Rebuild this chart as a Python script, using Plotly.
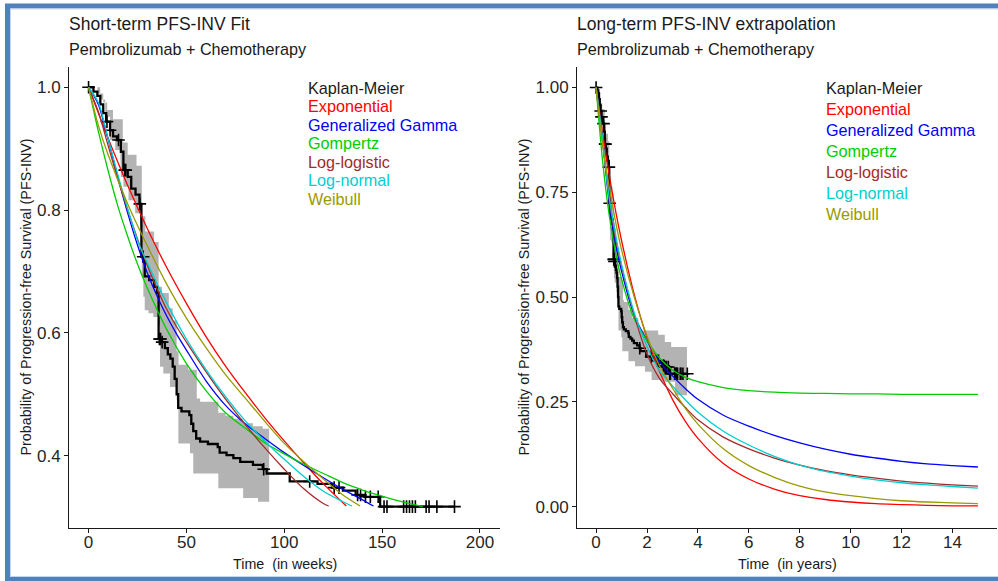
import numpy as np
import plotly.graph_objects as go

W, H = 998, 581
WEEKS_PER_YEAR = 52.18
FONT = "Liberation Sans, Arial, sans-serif"

# ---------------- Kaplan-Meier estimate (weeks, survival after each step) ----------------
km_weeks = [0, 2.5, 4.5, 6, 7.5, 9, 11, 12.5, 14.5, 16.5, 17.8, 20, 21.8, 24, 26, 27, 28,
            28.7, 31, 33.5, 35, 35.8, 37.5, 39, 40.5, 41.8, 43, 44, 45, 45.8, 47.5, 51.5,
            52.5, 53.5, 55, 57, 61, 66, 67, 70.5, 74, 77.5, 84, 89, 91, 102.8, 117, 124.5,
            130, 136.5, 141, 149, 187]
km_surv = [1.0, 0.993, 0.986, 0.972, 0.958, 0.944, 0.93, 0.92, 0.914, 0.895, 0.865, 0.854,
           0.835, 0.825, 0.81, 0.724, 0.717, 0.692, 0.686, 0.675, 0.665, 0.59, 0.585, 0.575,
           0.565, 0.558, 0.545, 0.525, 0.50, 0.478, 0.472, 0.466, 0.452, 0.44, 0.428, 0.423,
           0.419, 0.414, 0.405, 0.401, 0.396, 0.39, 0.385, 0.378, 0.371, 0.358, 0.354, 0.348,
           0.343, 0.336, 0.333, 0.317, 0.317]
censor_weeks = [0, 9.4, 11, 15.3, 18.5, 19, 26.2, 27.9, 36.2, 36.8, 37.6, 89.5, 113, 125.5,
                128, 137.5, 139, 141.5, 144, 148, 151, 152.5, 161, 162.5, 164, 165.5, 167,
                172.5, 174, 178, 187]

# ---------------- confidence band, short-term panel (weeks) ----------------
ci_up_weeks = [0, 4.5, 7.5, 9.5, 12.5, 17.5, 20, 24.5, 27.2, 29, 33.5, 35.8, 37.5, 41, 43,
               45, 46, 51, 55.3, 57, 66.3, 70, 74, 79, 84, 89, 92.3]
ci_up_short = [1.0, 0.99, 0.975, 0.963, 0.948, 0.91, 0.89, 0.872, 0.79, 0.765, 0.748, 0.675,
               0.665, 0.64, 0.62, 0.57, 0.548, 0.54, 0.493, 0.488, 0.47, 0.465, 0.46, 0.453,
               0.448, 0.444, 0.441]
ci_lo_weeks = [0, 5.9, 8.5, 11, 13.6, 16.2, 16.5, 17.8, 20.4, 23.8, 26.3, 27.2, 28, 28.7,
               30.6, 33.1, 35.5, 36.5, 38.2, 41.6, 45, 45.9, 51.8, 53.5, 66.3, 79, 86.6, 92.3]
ci_lo_short = [1.0, 0.98, 0.952, 0.914, 0.898, 0.887, 0.854, 0.838, 0.816, 0.795, 0.773,
               0.69, 0.659, 0.637, 0.632, 0.626, 0.613, 0.545, 0.534, 0.512, 0.491, 0.42,
               0.404, 0.371, 0.347, 0.331, 0.325, 0.321]

# ---------------- confidence band, long-term panel (years) ----------------
ci_up_years = [0, 0.09, 0.14, 0.18, 0.24, 0.34, 0.38, 0.47, 0.52, 0.56, 0.64, 0.69, 0.72,
               0.79, 0.82, 0.86, 0.88, 0.98, 1.06, 1.09, 1.27, 1.42, 1.66, 2.44, 2.7, 2.95,
               3.57]
ci_up_long = [1.0, 0.99, 0.975, 0.963, 0.948, 0.91, 0.89, 0.872, 0.79, 0.765, 0.748, 0.675,
              0.665, 0.64, 0.62, 0.57, 0.548, 0.54, 0.493, 0.488, 0.47, 0.45, 0.42, 0.41,
              0.393, 0.381, 0.381]
ci_lo_years = [0, 0.11, 0.16, 0.21, 0.26, 0.31, 0.32, 0.34, 0.39, 0.46, 0.5, 0.52, 0.54,
               0.55, 0.59, 0.63, 0.68, 0.7, 0.73, 0.8, 0.86, 0.88, 0.99, 1.03, 1.27, 1.53,
               1.92, 2.18, 2.57, 3.1, 3.57]
ci_lo_long = [1.0, 0.98, 0.952, 0.914, 0.898, 0.887, 0.854, 0.838, 0.816, 0.795, 0.773,
              0.69, 0.659, 0.637, 0.632, 0.626, 0.613, 0.545, 0.534, 0.512, 0.491, 0.42,
              0.404, 0.371, 0.347, 0.335, 0.322, 0.302, 0.298, 0.266, 0.266]

# ---------------- parametric models ----------------
model_names = ["Exponential", "Generalized Gamma", "Gompertz", "Log-logistic",
               "Log-normal", "Weibull"]
model_colors = ["#FF0000", "#0000FF", "#00CD00", "#A52A2A", "#00CED1", "#9A9A00"]

# short-term fits (weeks), drawn until they leave the y-range
exp_weeks = [0, 10, 20, 30, 40, 50, 60, 70, 80, 90, 100, 110, 120, 131.7]
exp_surv = [1, 0.917, 0.84, 0.77, 0.706, 0.648, 0.594, 0.546, 0.503, 0.462, 0.424, 0.388,
            0.354, 0.318]
gg_weeks = [0, 5, 10, 15, 20, 25, 30, 35, 40, 45, 50, 60, 70, 80, 90, 100, 110, 120, 130,
            140, 145.6]
gg_surv = [1, 0.972, 0.915, 0.853, 0.795, 0.743, 0.698, 0.66, 0.627, 0.598, 0.572, 0.522,
           0.482, 0.452, 0.428, 0.405, 0.384, 0.364, 0.345, 0.328, 0.318]
gomp_weeks = [0, 5, 10, 15, 20, 25, 30, 40, 50, 60, 70, 80, 90, 100, 110, 120, 130, 140, 150,
              160, 170.7]
gomp_surv = [1, 0.928, 0.864, 0.806, 0.757, 0.712, 0.673, 0.605, 0.55, 0.506, 0.47, 0.445,
             0.421, 0.403, 0.386, 0.371, 0.356, 0.344, 0.334, 0.325, 0.317]
llog_weeks = [0, 5, 10, 15, 20, 25, 30, 35, 40, 45, 50, 60, 70, 80, 90, 100, 110, 120, 122.7]
llog_surv = [1, 0.96, 0.905, 0.85, 0.8, 0.753, 0.71, 0.672, 0.638, 0.61, 0.585, 0.537, 0.492,
             0.451, 0.413, 0.378, 0.346, 0.322, 0.318]
lnorm_weeks = [0, 5, 10, 15, 20, 25, 30, 40, 50, 60, 70, 80, 90, 100, 110, 120, 130, 134.6]
lnorm_surv = [1, 0.975, 0.916, 0.857, 0.802, 0.751, 0.714, 0.648, 0.59, 0.54, 0.496, 0.457,
              0.424, 0.394, 0.366, 0.342, 0.325, 0.318]
weib_weeks = [0, 5, 10, 20, 30, 40, 50, 60, 70, 80, 90, 100, 110, 120, 130, 138.8]
weib_surv = [1, 0.938, 0.89, 0.81, 0.742, 0.679, 0.624, 0.576, 0.532, 0.494, 0.456, 0.42,
             0.39, 0.362, 0.336, 0.318]

# long-term extrapolations (years)
long_years = [0, 0.25, 0.5, 0.75, 1, 1.5, 2, 2.5, 3, 3.5, 4, 5, 6, 7, 8, 9, 10, 11, 12, 13,
              14, 15]
exp_long = [1, 0.893, 0.797, 0.711, 0.635, 0.506, 0.403, 0.321, 0.256, 0.204, 0.163, 0.103,
            0.066, 0.042, 0.026, 0.017, 0.011, 0.007, 0.005, 0.003, 0.002, 0.002]
gg_long = [1, 0.878, 0.733, 0.632, 0.562, 0.456, 0.396, 0.345, 0.312, 0.282, 0.256, 0.218,
           0.192, 0.17, 0.152, 0.137, 0.125, 0.116, 0.108, 0.102, 0.098, 0.0945]
gomp_long = [1, 0.828, 0.702, 0.611, 0.543, 0.448, 0.396, 0.354, 0.326, 0.309, 0.298, 0.284,
             0.277, 0.273, 0.271, 0.27, 0.269, 0.269, 0.268, 0.268, 0.268, 0.268]
llog_long = [1, 0.872, 0.744, 0.644, 0.574, 0.457, 0.364, 0.305, 0.27, 0.237, 0.207, 0.166,
             0.138, 0.116, 0.099, 0.086, 0.076, 0.068, 0.061, 0.056, 0.052, 0.049]
lnorm_long = [1, 0.881, 0.743, 0.654, 0.578, 0.462, 0.382, 0.324, 0.288, 0.255, 0.225, 0.18,
              0.147, 0.12, 0.099, 0.084, 0.073, 0.064, 0.057, 0.052, 0.048, 0.044]
weib_long = [1, 0.866, 0.768, 0.685, 0.613, 0.5, 0.407, 0.335, 0.283, 0.235, 0.197, 0.138,
             0.098, 0.07, 0.049, 0.035, 0.026, 0.019, 0.014, 0.011, 0.009, 0.007]

short_fits = [(exp_weeks, exp_surv), (gg_weeks, gg_surv), (gomp_weeks, gomp_surv),
              (llog_weeks, llog_surv), (lnorm_weeks, lnorm_surv), (weib_weeks, weib_surv)]
long_fits = [exp_long, gg_long, gomp_long, llog_long, lnorm_long, weib_long]


def step_vertices(x, y):
    """Expand a right-continuous step function into explicit polygon vertices."""
    xs, ys = [], []
    for i in range(len(x)):
        if i > 0:
            xs.append(x[i])
            ys.append(y[i - 1])
        xs.append(x[i])
        ys.append(y[i])
    return xs, ys


def band(x_up, y_up, x_lo, y_lo):
    ux, uy = step_vertices(x_up, y_up)
    lx, ly = step_vertices(x_lo, y_lo)
    return ux + lx[::-1], uy + ly[::-1]


def km_at(times, t_step, s_step):
    idx = np.searchsorted(np.asarray(t_step), np.asarray(times), side="right") - 1
    return np.asarray(s_step)[idx]


km_w = np.array(km_weeks)
km_s = np.array(km_surv)
cens_w = np.array(censor_weeks)
cens_s = km_at(cens_w, km_w, km_s)

fig = go.Figure()

panels = [
    dict(xa="x", ya="y", scale=1.0,
         band=band(ci_up_weeks, ci_up_short, ci_lo_weeks, ci_lo_short)),
    dict(xa="x2", ya="y2", scale=1.0 / WEEKS_PER_YEAR,
         band=band(ci_up_years, ci_up_long, ci_lo_years, ci_lo_long)),
]

for p_i, p in enumerate(panels):
    bx, by = p["band"]
    fig.add_trace(go.Scatter(x=bx, y=by, mode="lines", fill="toself",
                             fillcolor="rgb(179,179,179)", line=dict(width=0),
                             xaxis=p["xa"], yaxis=p["ya"], showlegend=False,
                             hoverinfo="skip"))
    fig.add_trace(go.Scatter(x=km_w * p["scale"], y=km_s, mode="lines",
                             line=dict(color="black", width=2.3, shape="hv"),
                             xaxis=p["xa"], yaxis=p["ya"], showlegend=False,
                             name="Kaplan-Meier"))
    fig.add_trace(go.Scatter(x=cens_w * p["scale"], y=cens_s, mode="markers",
                             marker=dict(symbol="cross-thin", size=9,
                                         line=dict(color="black", width=1.6)),
                             xaxis=p["xa"], yaxis=p["ya"], showlegend=False,
                             hoverinfo="skip"))
    for m_i, name in enumerate(model_names):
        if p_i == 0:
            fx, fy = short_fits[m_i]
        else:
            fx, fy = long_years, long_fits[m_i]
        fig.add_trace(go.Scatter(x=fx, y=fy, mode="lines", name=name,
                                 line=dict(color=model_colors[m_i], width=1.3,
                                           shape="spline", smoothing=0.8),
                                 xaxis=p["xa"], yaxis=p["ya"], showlegend=False))


def px(x):
    return x / W


def py(y):
    return 1 - y / H


axis_common = dict(showline=True, linecolor="#1a1a1a", linewidth=1, ticks="outside",
                   ticklen=4, tickwidth=1, tickcolor="#1a1a1a", showgrid=False,
                   zeroline=False, tickfont=dict(family=FONT, size=17, color="#262626"),
                   mirror=False)

ydom = [py(528), py(67)]
fig.update_layout(
    width=W, height=H, margin=dict(l=0, r=0, t=0, b=0),
    paper_bgcolor="white", plot_bgcolor="white", showlegend=False,
    xaxis=dict(domain=[px(69), px(499.5)], range=[-10, 210],
               tickvals=[0, 50, 100, 150, 200], anchor="y", ticklabelstandoff=-5,
               **axis_common),
    yaxis=dict(domain=ydom, range=[0.2822, 1.033], tickvals=[0.4, 0.6, 0.8, 1.0],
               ticktext=["0.4", "0.6", "0.8", "1.0"], anchor="x", **axis_common),
    xaxis2=dict(domain=[px(577), px(997)], range=[-0.75, 15.75],
                tickvals=[0, 2, 4, 6, 8, 10, 12, 14], anchor="y2", ticklabelstandoff=-5,
                **axis_common),
    yaxis2=dict(domain=ydom, range=[-0.051, 1.049], tickvals=[0, 0.25, 0.5, 0.75, 1.0],
                ticktext=["0.00", "0.25", "0.50", "0.75", "1.00"], anchor="x2",
                **axis_common),
)

ann = []


def text(x, y, s, size, color="#1a1a1a", xanchor="left", angle=0):
    ann.append(dict(x=px(x), y=py(y), xref="paper", yref="paper", text=s,
                    showarrow=False, xanchor=xanchor, yanchor="middle", textangle=angle,
                    font=dict(family=FONT, size=size, color=color)))


# titles and subtitles
text(67, 24.5, "Short-term PFS-INV Fit", 17.5)
text(67, 49, "Pembrolizumab + Chemotherapy", 16.2)
text(575, 24.5, "Long-term PFS-INV extrapolation", 17.5)
text(575, 49, "Pembrolizumab + Chemotherapy", 16.2)

# axis titles
text(284.5, 563.5, "Time \u00a0(in weeks)", 14.3, xanchor="center")
text(787, 563.5, "Time \u00a0(in years)", 14.3, xanchor="center")
text(25, 297.5, "Probability of Progression-free Survival (PFS-INV)", 14.3,
     xanchor="center", angle=-90)
text(523, 297.5, "Probability of Progression-free Survival (PFS-INV)", 14.3,
     xanchor="center", angle=-90)

# colour-coded legends
legend_labels = ["Kaplan-Meier"] + model_names
legend_colors = ["#1a1a1a"] + model_colors
for i, (lab, col) in enumerate(zip(legend_labels, legend_colors)):
    text(305.5, 88 + i * 18.45, lab, 16.2, color=col)
    text(823.5, 88 + i * 21.0, lab, 16.2, color=col)

fig.update_layout(annotations=ann)

# blue picture frame
fig.add_shape(type="rect", xref="paper", yref="paper", x0=px(7.5), x1=px(1010),
              y0=py(579.5), y1=py(6), line=dict(color="#4F81BD", width=5),
              fillcolor="rgba(0,0,0,0)", layer="above")
fig.add_shape(type="rect", xref="paper", yref="paper", x0=px(10.5), x1=px(1010),
              y0=py(576.5), y1=py(9), line=dict(color="#C6D6EC", width=1),
              fillcolor="rgba(0,0,0,0)", layer="above")

fig.write_html("out.html")
